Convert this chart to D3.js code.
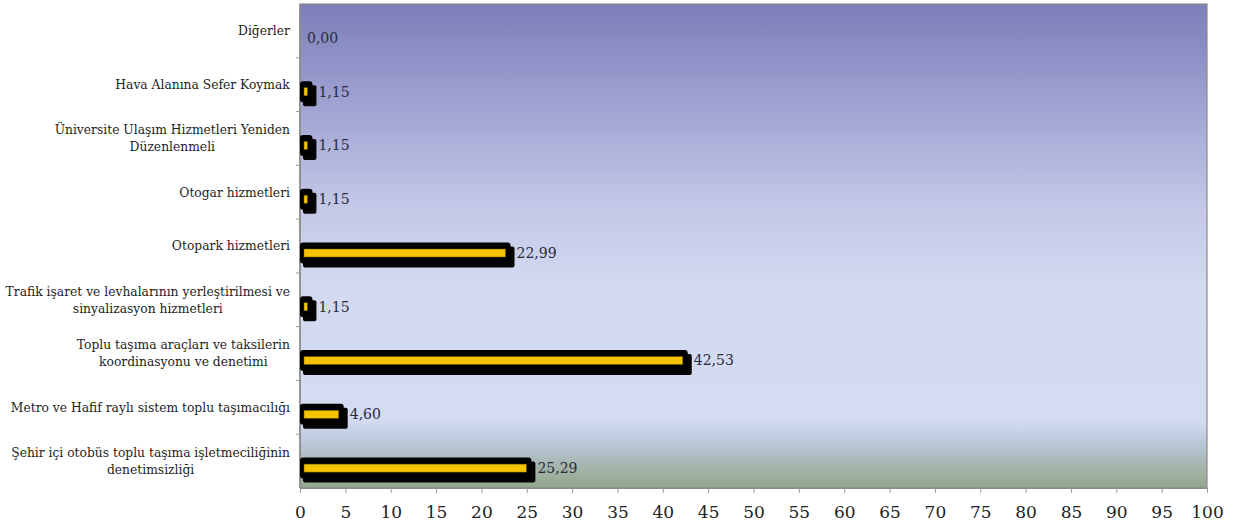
<!DOCTYPE html>
<html>
<head>
<meta charset="utf-8">
<script src="https://cdn.jsdelivr.net/npm/d3@7"></script>
<style>
  html, body { margin: 0; padding: 0; background: #fff; }
  svg { display: block; }
</style>
</head>
<body>
<svg id="chart" width="1237" height="526"></svg>
<script>
// categories top to bottom, each one may wrap on two lines
const categories = [
  ['Diğerler'],
  ['Hava Alanına Sefer Koymak'],
  ['Üniversite Ulaşım Hizmetleri Yeniden', 'Düzenlenmeli'],
  ['Otogar hizmetleri'],
  ['Otopark hizmetleri'],
  ['Trafik işaret ve levhalarının yerleştirilmesi ve', 'sinyalizasyon hizmetleri'],
  ['Toplu taşıma araçları ve taksilerin', 'koordinasyonu ve denetimi'],
  ['Metro ve Hafif raylı sistem toplu taşımacılığı'],
  ['Şehir içi otobüs toplu taşıma işletmeciliğinin', 'denetimsizliği']
];
const values = [0.00, 1.15, 1.15, 1.15, 22.99, 1.15, 42.53, 4.60, 25.29];
const xTicks = d3.range(0, 101, 5);

const plotL = 300, plotR = 1207, plotT = 4, plotB = 488;
const svg = d3.select('#chart');

let x = d3.scaleLinear().domain([0, 100]).range([plotL, plotR]);
let y = d3.scaleBand().domain(d3.range(categories.length)).range([plotT, plotB]);

// background gradient
let defs = svg.append('defs');
let grad = defs.append('linearGradient')
               .attr('id', 'bg').attr('x1', 0).attr('y1', 0).attr('x2', 0).attr('y2', 1);
[[0, '#7c7fb9'], [0.2, '#9ea1d1'], [0.42, '#c4c8e7'], [0.58, '#d2d9f0'],
 [0.86, '#d3dcf3'], [0.91, '#b8c6d6'], [0.96, '#a3b3a8'], [1, '#93a78d']]
  .forEach(s => grad.append('stop').attr('offset', s[0]).attr('stop-color', s[1]));

svg.append('rect')
   .attr('x', plotL).attr('y', plotT)
   .attr('width', plotR - plotL).attr('height', plotB - plotT)
   .attr('fill', 'url(#bg)')
   .attr('stroke', '#8a8a8a').attr('stroke-width', 1.2);

// x axis
let xAxis = svg.append('g')
   .attr('transform', `translate(0,${plotB})`)
   .call(d3.axisBottom(x).tickValues(xTicks).tickSize(5).tickSizeOuter(0).tickPadding(13));
xAxis.select('.domain').attr('stroke', '#8a8a8a');
xAxis.selectAll('.tick line').attr('stroke', '#999');
xAxis.selectAll('.tick text')
     .attr('font-family', 'DejaVu Serif').attr('font-size', 17).attr('fill', '#222');

// y axis line + ticks at band boundaries
svg.append('line')
   .attr('x1', plotL).attr('x2', plotL).attr('y1', plotT).attr('y2', plotB)
   .attr('stroke', '#8a8a8a').attr('stroke-width', 1.5);
svg.append('g').selectAll('line')
   .data(d3.range(1, categories.length))
   .enter().append('line')
   .attr('x1', plotL - 4).attr('x2', plotL)
   .attr('y1', d => y(d)).attr('y2', d => y(d))
   .attr('stroke', '#999');

// category labels
let labels = svg.append('g')
   .attr('font-family', 'DejaVu Serif').attr('font-size', 12.3).attr('fill', '#1e1e1e')
   .attr('text-anchor', 'middle');
categories.forEach((lines, i) => {
    let cy = y(i) + y.bandwidth() / 2;
    let t = labels.append('text').attr('y', cy - (lines.length - 1) * 8.5);
    lines.forEach((ln, j) => {
        t.append('tspan').attr('x', 0).attr('dy', j === 0 ? '0.35em' : 17).text(ln);
    });
    // right-align block, centre the lines inside it
    let w = t.node().getBBox().width;
    t.attr('transform', `translate(${290 - w / 2},0)`);
});

// bars
let barH = 21, shift = 7;
let bars = svg.append('g').selectAll('g')
   .data(values.map((v, i) => ({ v: v, i: i })).filter(d => d.v > 0))
   .enter().append('g');

bars.append('rect') // shadow
    .attr('x', x(0) + 3)
    .attr('y', d => y(d.i) + y.bandwidth() / 2 + shift - barH / 2 + 4)
    .attr('width', d => x(d.v) - x(0) + 3)
    .attr('height', barH)
    .attr('rx', 2)
    .attr('fill', '#050505');

bars.append('rect')
    .attr('x', x(0))
    .attr('y', d => y(d.i) + y.bandwidth() / 2 + shift - barH / 2)
    .attr('width', d => x(d.v) - x(0) + 2)
    .attr('height', barH)
    .attr('rx', 3)
    .attr('fill', '#000');

bars.append('rect')
    .attr('x', x(0) + 4)
    .attr('y', d => y(d.i) + y.bandwidth() / 2 + shift - 4)
    .attr('width', d => Math.max(x(d.v) - x(0) - 7, 3))
    .attr('height', 8)
    .attr('fill', '#f3c300')
    .attr('stroke', '#6b5a00').attr('stroke-width', 0.5);

// value labels
svg.append('g').selectAll('text')
   .data(values)
   .enter().append('text')
   .attr('x', d => x(d) + (d > 0 ? 8 : 7))
   .attr('y', (d, i) => y(i) + y.bandwidth() / 2 + shift)
   .attr('dy', '0.35em')
   .attr('font-family', 'DejaVu Serif').attr('font-size', 14).attr('fill', '#2a2a3a')
   .text(d => d.toFixed(2).replace('.', ','));
</script>
</body>
</html>
